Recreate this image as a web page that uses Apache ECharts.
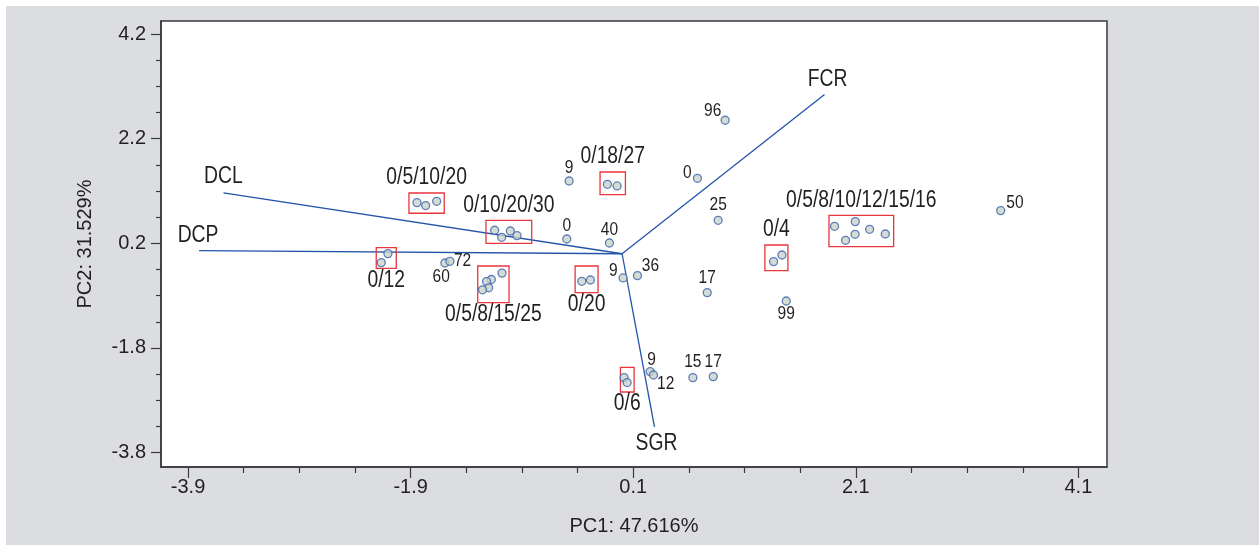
<!DOCTYPE html>
<html>
<head>
<meta charset="utf-8">
<script src="https://cdn.jsdelivr.net/npm/echarts@6/dist/echarts.min.js"></script>
<style>
html,body{margin:0;padding:0;background:#fff;}
#bg{position:absolute;left:6px;top:6px;width:1253px;height:539px;background:#dcdde0;}
#chart{position:absolute;left:0;top:0;width:1259px;height:545px;}
</style>
</head>
<body>
<div id="bg"></div>
<div id="chart"></div>
<script>
// ---- tick labels ----
const xMajorTicks = [-3.9, -1.9, 0.1, 2.1, 4.1];
const xMinorTicks = [-3.4, -2.9, -2.4, -1.4, -0.9, -0.4, 0.6, 1.1, 1.6, 2.6, 3.1, 3.6];
const yMajorTicks = [-3.8, -1.8, 0.2, 2.2, 4.2];
const yMinorTicks = [-3.3, -2.8, -2.3, -1.3, -0.8, -0.3, 0.7, 1.2, 1.7, 2.7, 3.2, 3.7];
const xAxisName = 'PC1: 47.616%';
const yAxisName = 'PC2: 31.529%';

// ---- loading vectors ----
const vecNames = ['DCL', 'DCP', 'FCR', 'SGR'];
const vecPC1 = [-3.582, -3.801, 1.819, 0.291];
const vecPC2 = [1.162, 0.060, 3.043, -3.312];

// ---- labelled single points ----
const pointNames = ['96', '9', '0', '25', '0', '40', '60', '72', '9', '36', '17', '99', '50', '9', '12', '15', '17'];
const pointPC1 = [0.926, -0.476, 0.677, 0.863, -0.497, -0.114, -1.592, -1.547, 0.009, 0.138, 0.765, 1.475, 3.402, 0.252, 0.282, 0.636, 0.819];
const pointPC2 = [2.552, 1.391, 1.443, 0.640, 0.282, 0.206, -0.177, -0.144, -0.463, -0.418, -0.743, -0.903, 0.825, -2.253, -2.318, -2.368, -2.349];

// ---- boxed groups ----
const groupNames = ['0/5/10/20', '0/18/27', '0/10/20/30', '0/12', '0/5/8/15/25', '0/20', '0/6', '0/4', '0/5/8/10/12/15/16'];
const groupPC1 = [
  [-1.843, -1.765, -1.666],
  [-0.132, -0.045],
  [-1.145, -1.082, -1.004, -0.944],
  [-2.104, -2.164],
  [-1.079, -1.175, -1.218, -1.199, -1.254],
  [-0.362, -0.285],
  [0.018, 0.045],
  [1.361, 1.436],
  [1.909, 2.008, 2.093, 2.095, 2.224, 2.365]
];
const groupPC2 = [
  [0.978, 0.921, 1.003],
  [1.328, 1.296],
  [0.449, 0.315, 0.435, 0.347],
  [0.003, -0.169],
  [-0.370, -0.492, -0.532, -0.651, -0.689],
  [-0.527, -0.502],
  [-2.368, -2.463],
  [-0.150, -0.024],
  [0.525, 0.257, 0.372, 0.615, 0.468, 0.378]
];
// box extents in data units: [pc1 min, pc1 max]
const groupBoxPC1 = [[-1.915, -1.598], [-0.198, 0.030], [-1.223, -0.812], [-2.209, -2.029], [-1.297, -1.016], [-0.422, -0.216], [-0.015, 0.108], [1.283, 1.490], [1.859, 2.440]];
// [pc2 min, pc2 max]
const groupBoxPC2 = [[0.774, 1.162], [1.131, 1.563], [0.200, 0.640], [-0.278, 0.118], [-0.934, -0.234], [-0.743, -0.234], [-2.643, -2.171], [-0.322, 0.167], [0.137, 0.735]];

// ---- styling / layout (not data) ----
const FONT = "'Liberation Sans', Arial, sans-serif";
const TXT = '#231f20';
const AXC = '#3a3a3a';
const NARROW = 0.84;   // horizontal squeeze to imitate a condensed face
const groupLabelBelow = [false, false, false, true, true, true, true, false, false];
const pointLabelOffset = [[-12.5, -9.3], [0, -13], [-10, -5], [0, -15], [0, -13.4], [0, -13.4], [-3.7, 14], [12.7, 0], [-9.7, -7.2], [13, -9.5], [0, -15], [0, 13], [14.3, -7.3], [1.5, -11.8], [12.2, 8.7], [0, -15.6], [0, -15]];
const vecLabelOffset = [[0, -16], [-1, -15], [3, -14.6], [2, 16.6]];

const chart = echarts.init(document.getElementById('chart'), null, {renderer: 'canvas'});

const markerStyle = {color: '#c9d3c9', borderColor: '#3b62ad', borderWidth: 1.3};

const pointData = pointNames.map((n, i) => [pointPC1[i], pointPC2[i]]);
const groupPointData = [];
groupPC1.forEach((xs, g) => xs.forEach((x, k) => groupPointData.push([x, groupPC2[g][k]])));
const boxData = groupNames.map((n, i) => [groupBoxPC1[i][0], groupBoxPC1[i][1], groupBoxPC2[i][0], groupBoxPC2[i][1]]);
const vecData = vecNames.map((n, i) => [vecPC1[i], vecPC2[i]]);

function squeezedText(str, x, y, size) {
  return {type: 'text', x: x, y: y, scaleX: NARROW, scaleY: 1,
          style: {text: str, x: 0, y: 0, align: 'center', verticalAlign: 'middle',
                  font: size + 'px ' + FONT, fill: TXT}};
}

function commonX() {
  return {type: 'value', min: -4.143, max: 4.357, position: 'bottom', gridIndex: 0};
}

const option = {
  backgroundColor: 'transparent',
  animation: false,
  grid: {left: 161, top: 21, width: 946, height: 446, show: true, backgroundColor: '#fff',
         borderColor: AXC, borderWidth: 1.5, containLabel: false, outerBoundsMode: 'none'},
  xAxis: [
    Object.assign(commonX(), {
      axisLine: {show: true, onZero: false, lineStyle: {color: AXC, width: 1.5}},
      axisTick: {show: true, length: 11, customValues: xMajorTicks, lineStyle: {color: AXC, width: 1.2}},
      axisLabel: {show: true, customValues: xMajorTicks, formatter: v => Number(v).toFixed(1), margin: 10,
                  fontSize: 20, fontFamily: FONT, color: TXT},
      splitLine: {show: false},
      name: xAxisName, nameLocation: 'middle', nameGap: 49,
      nameTextStyle: {fontSize: 20, fontFamily: FONT, color: TXT}
    }),
    Object.assign(commonX(), {
      axisLine: {show: false, onZero: false},
      axisTick: {show: true, length: 6, customValues: xMinorTicks, lineStyle: {color: AXC, width: 1.2}},
      axisLabel: {show: false},
      splitLine: {show: false}
    })
  ],
  yAxis: [
    {
      type: 'value', min: -4.077, max: 4.45, position: 'left',
      axisLine: {show: true, onZero: false, lineStyle: {color: AXC, width: 1.5}},
      axisTick: {show: true, length: 10, customValues: yMajorTicks, lineStyle: {color: AXC, width: 1.2}},
      axisLabel: {show: true, customValues: yMajorTicks, formatter: v => Number(v).toFixed(1), margin: 15,
                  fontSize: 20, fontFamily: FONT, color: TXT},
      splitLine: {show: false},
      name: yAxisName, nameLocation: 'middle', nameGap: 66,
      nameTextStyle: {fontSize: 20, fontFamily: FONT, color: TXT}
    },
    {
      type: 'value', min: -4.077, max: 4.45, position: 'left',
      axisLine: {show: false, onZero: false},
      axisTick: {show: true, length: 5, customValues: yMinorTicks, lineStyle: {color: AXC, width: 1.2}},
      axisLabel: {show: false},
      splitLine: {show: false}
    }
  ],
  series: [
    {
      type: 'custom', name: 'vectors', xAxisIndex: 0, yAxisIndex: 0, z: 2,
      data: vecData, encode: {x: 0, y: 1},
      renderItem: function (params, api) {
        const i = params.dataIndex;
        const o = api.coord([0, 0]);
        const e = api.coord([api.value(0), api.value(1)]);
        const off = vecLabelOffset[i];
        return {
          type: 'group',
          children: [
            {type: 'line', shape: {x1: o[0], y1: o[1], x2: e[0], y2: e[1]},
             style: {stroke: '#2254a8', lineWidth: 1.3}},
            squeezedText(vecNames[i], e[0] + off[0], e[1] + off[1], 23)
          ]
        };
      }
    },
    {
      type: 'custom', name: 'groups', xAxisIndex: 0, yAxisIndex: 0, z: 3,
      data: boxData, encode: {x: [0, 1], y: [2, 3]},
      renderItem: function (params, api) {
        const i = params.dataIndex;
        const p1 = api.coord([api.value(0), api.value(3)]);
        const p2 = api.coord([api.value(1), api.value(2)]);
        const cx = (p1[0] + p2[0]) / 2;
        const ty = groupLabelBelow[i] ? p2[1] + 12 : p1[1] - 15;
        return {
          type: 'group',
          children: [
            {type: 'rect', shape: {x: p1[0], y: p1[1], width: p2[0] - p1[0], height: p2[1] - p1[1]},
             style: {fill: 'none', stroke: '#e8363c', lineWidth: 1.3}},
            squeezedText(groupNames[i], cx, ty, 23)
          ]
        };
      }
    },
    {
      type: 'scatter', name: 'group members', xAxisIndex: 0, yAxisIndex: 0, z: 5,
      symbol: 'circle', symbolSize: 8, itemStyle: markerStyle, data: groupPointData
    },
    {
      type: 'scatter', name: 'points', xAxisIndex: 0, yAxisIndex: 0, z: 5,
      symbol: 'circle', symbolSize: 8, itemStyle: markerStyle, data: pointData
    },
    {
      type: 'custom', name: 'point labels', xAxisIndex: 0, yAxisIndex: 0, z: 6,
      data: pointData, encode: {x: 0, y: 1},
      renderItem: function (params, api) {
        const i = params.dataIndex;
        const c = api.coord([api.value(0), api.value(1)]);
        const off = pointLabelOffset[i];
        return squeezedText(pointNames[i], c[0] + off[0], c[1] + off[1], 18.5);
      }
    }
  ]
};
chart.setOption(option);
</script>
</body>
</html>
